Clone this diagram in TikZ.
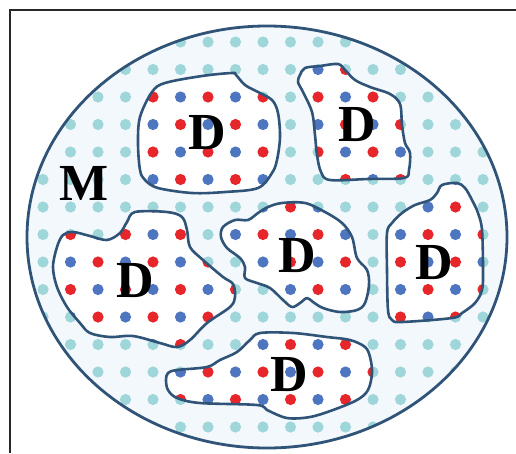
\documentclass[tikz,border=0pt]{standalone}
\usepackage{fontspec}
\setmainfont{Liberation Serif}
\definecolor{outl}{RGB}{48,84,120}
\definecolor{dred}{RGB}{230,38,42}
\definecolor{dblue}{RGB}{78,118,192}
\definecolor{dcyan}{RGB}{158,214,218}
\definecolor{bgfill}{RGB}{243,248,252}
\definecolor{framecol}{RGB}{40,40,40}
\newcommand\regiondots[5]{%
  \foreach \i in {#1,...,#2}{\foreach \j in {#3,...,#4}{%
    \pgfmathtruncatemacro\pq{mod(\i+\j+#5,2)}%
    \ifnum\pq=0
      \fill[dred] (43+27.5*\i,42+27.5*\j) circle[radius=5.6pt];
    \else
      \fill[dblue] (43+27.5*\i,42+27.5*\j) circle[radius=5.6pt];
    \fi
  }}}
\def\pathA{plot[smooth cycle,tension=0.55] coordinates {(140,117) (152,92) (165,83) (202,76) (232,73) (236,75) (245,85) (258,92) (272,100) (278,113) (280,137) (277,160) (272,173) (258,188) (225,192) (192,193) (158,188) (145,180) (140,170) (138,143)}}
\def\pathB{plot[smooth cycle,tension=0.55] coordinates {(300,75) (305,68) (320,66) (338,64) (345,70) (355,80) (370,87) (390,94) (400,104) (402,125) (405,143) (410,153) (409,170) (404,178) (368,179) (330,180) (321,172) (317,155) (315,135) (312,112) (303,92) (298,82)}}
\def\pathC{plot[smooth cycle,tension=0.55] coordinates {(63,235) (73,232) (90,236) (107,240) (120,233) (127,222) (135,212) (167,212) (182,217) (187,230) (190,247) (203,260) (223,277) (233,284) (235,297) (230,307) (207,323) (190,340) (177,347) (160,343) (133,336) (110,337) (90,333) (80,323) (67,307) (57,287) (53,267) (57,247)}}
\def\pathD{plot[smooth cycle,tension=0.55] coordinates {(223,227) (235,220) (248,220) (258,213) (268,207) (282,203) (305,203) (325,212) (342,223) (352,237) (357,258) (367,270) (369,285) (365,303) (357,310) (340,312) (323,308) (313,302) (307,298) (300,303) (292,307) (283,300) (270,288) (257,283) (245,278) (245,267) (240,258) (227,248) (221,237)}}
\def\pathE{plot[smooth cycle,tension=0.55] coordinates {(437,193) (442,185) (457,183) (465,188) (472,200) (478,213) (482,230) (483,270) (482,290) (475,303) (462,313) (452,318) (402,322) (392,320) (388,310) (387,270) (387,233) (392,223) (402,213) (415,205) (430,200)}}
\def\pathF{plot[smooth cycle,tension=0.55] coordinates {(168,373) (177,370) (207,367) (220,360) (237,352) (250,340) (260,333) (293,333) (327,337) (350,340) (365,347) (370,357) (372,373) (368,390) (357,400) (333,410) (310,417) (287,418) (267,410) (257,405) (200,403) (177,398) (168,390) (166,380)}}
\begin{document}
\begin{tikzpicture}[x=1pt,y=-1pt,
  regionline/.style={draw=outl,line width=2.6pt,line join=round},
  ellipseline/.style={draw=outl,line width=2.8pt},
  lbl/.style={inner sep=0pt,font=\bfseries\fontsize{52}{52}\selectfont},
  framelines/.style={draw=framecol,line width=1.4pt}]
\useasboundingbox (0,0) rectangle (516,453);
\fill[white] (0,0) rectangle (516,453);
% matrix ellipse
\fill[bgfill] (267,237) ellipse [x radius=240pt, y radius=211pt];
\begin{scope}
  \clip (267,237) ellipse [x radius=240pt, y radius=211pt];
  \foreach \i in {0,...,16}{\foreach \j in {0,...,14}{%
    \fill[dcyan] (43+27.5*\i,42+27.5*\j) circle[radius=5.6pt];}}
\end{scope}
% regions
\fill[white] \pathA;
\begin{scope}\clip \pathA; \regiondots{3}{9}{1}{6}{0}\end{scope}
\fill[white] \pathB;
\begin{scope}\clip \pathB; \regiondots{9}{14}{0}{6}{0}\end{scope}
\fill[white] \pathC;
\begin{scope}\clip \pathC; \regiondots{0}{7}{6}{11}{0}\end{scope}
\fill[white] \pathD;
\begin{scope}\clip \pathD; \regiondots{6}{12}{5}{10}{1}\end{scope}
\fill[white] \pathE;
\begin{scope}\clip \pathE; \regiondots{12}{16}{5}{11}{1}\end{scope}
\fill[white] \pathF;
\begin{scope}\clip \pathF; \regiondots{4}{12}{10}{14}{0}\end{scope}
\path[regionline] \pathA;
\path[regionline] \pathB;
\path[regionline] \pathC;
\path[regionline] \pathD;
\path[regionline] \pathE;
\path[regionline] \pathF;
\path[ellipseline] (267,237) ellipse [x radius=240pt, y radius=211pt];
% labels
\node[lbl] (m) at (84,183) {M};
\node[lbl] (d1) at (207,133) {D};
\node[lbl] (d2) at (357,125) {D};
\node[lbl] (d3) at (135,281) {D};
\node[lbl] (d4) at (297,256) {D};
\node[lbl] (d5) at (434,263) {D};
\node[lbl] (d6) at (289,375) {D};
% frame
\path[framelines] (10,453) -- (10,10) -- (516,10);
\end{tikzpicture}
\end{document}
